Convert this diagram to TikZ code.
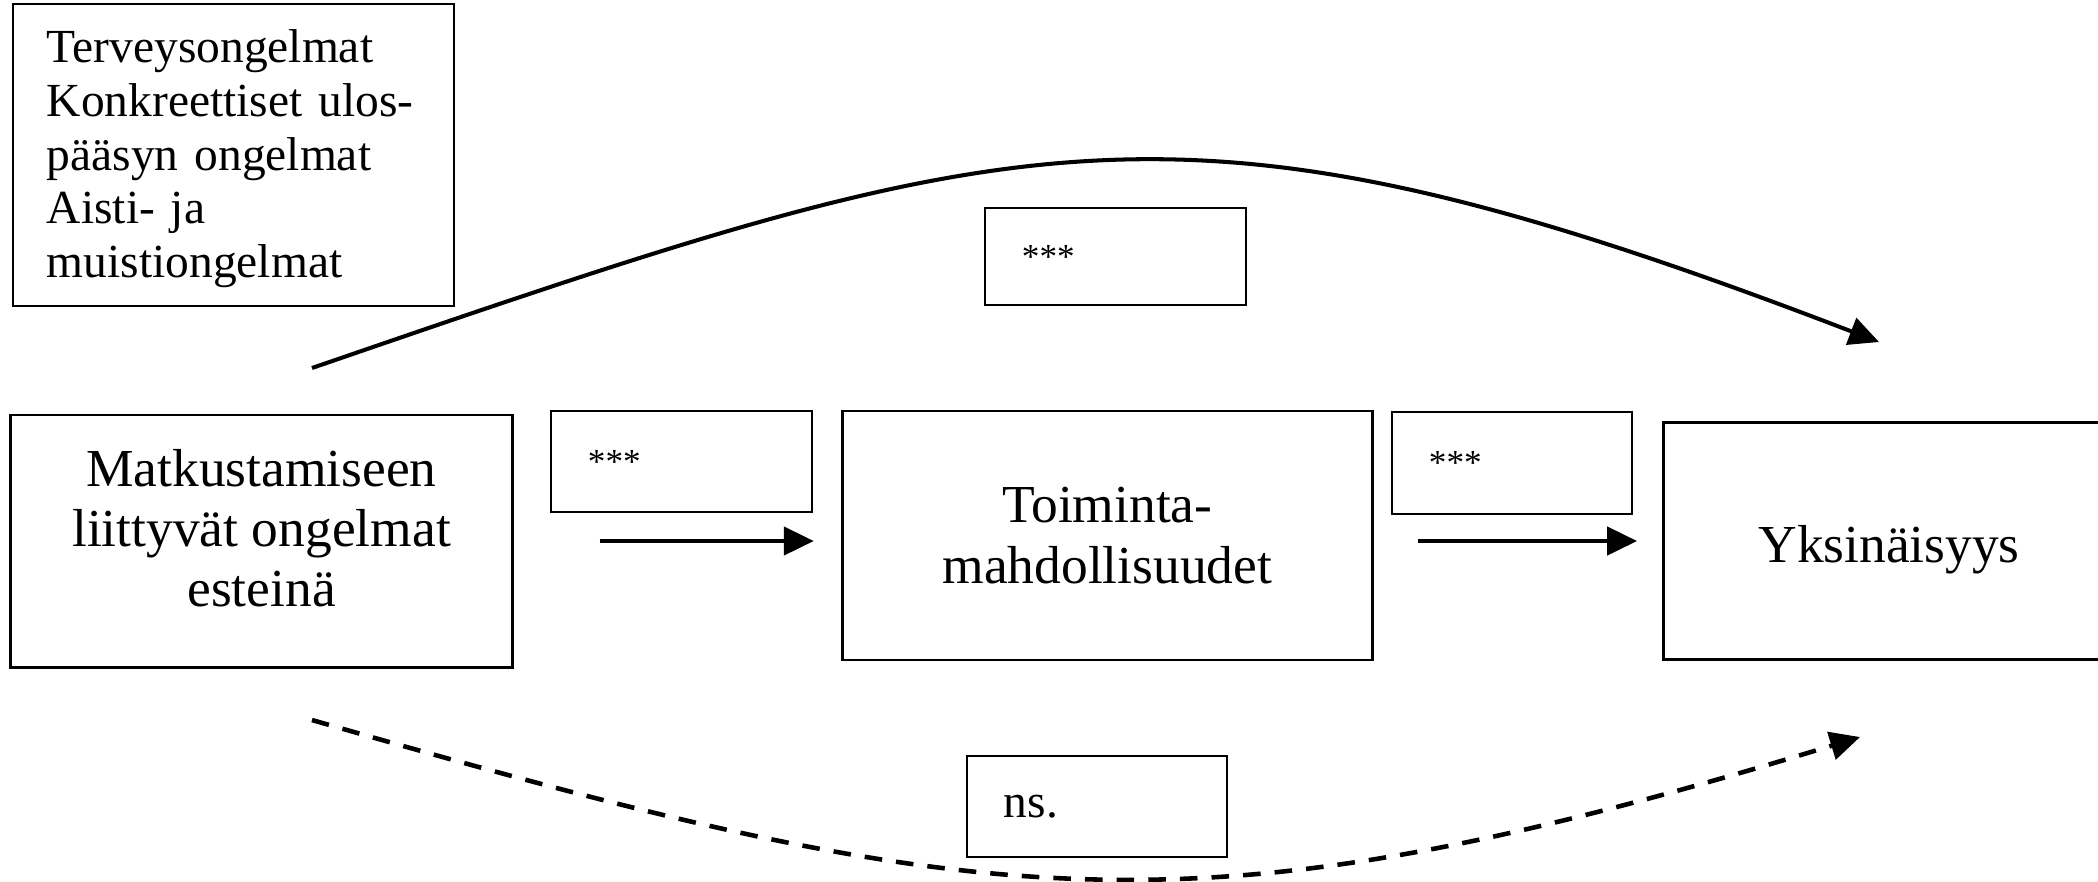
\documentclass[tikz,border=0pt]{standalone}
\usepackage{fontspec}
\setmainfont{Liberation Serif}
\usetikzlibrary{arrows.meta, positioning}

\begin{document}
\begin{tikzpicture}[x=0.01cm, y=-0.01cm, >=Triangle]
  % Define styles
  \tikzstyle{bigbox} = [rectangle, draw=black, line width=0.8pt, align=center, inner sep=0pt, font=\fontsize{15.2}{17.1}\selectfont]
  \tikzstyle{factorbox} = [rectangle, draw=black, line width=0.6pt, minimum height=3.02cm, inner xsep=0.34cm, text width=3.73cm, align=left, font=\fontsize{13.5}{15.3}\selectfont]
  \tikzstyle{starbox} = [rectangle, draw=black, line width=0.55pt, minimum height=1.01cm, inner xsep=0.37cm, inner ysep=0pt, text width=1.87cm, align=left, font=\fontsize{10}{12}\selectfont]
  \tikzstyle{arrow} = [line width=1.15pt, -{Triangle[length=8.5pt, width=8pt]}]
  \tikzstyle{dasharrow} = [arrow, line width=1.3pt, dash pattern=on 5pt off 4pt]

  \useasboundingbox (0,0) rectangle (2098,881);

  % Place nodes
  \node [bigbox, minimum width=5.01cm, minimum height=2.52cm, text depth=0.26cm] (matk) at (261.5,541) {Matkustamiseen\\liittyvät ongelmat\\esteinä};
  \node [bigbox, minimum width=5.30cm, minimum height=2.49cm, right=3.27cm of matk, yshift=0.055cm] (toim) {Toiminta-\\mahdollisuudet};
  \node [bigbox, minimum width=4.51cm, minimum height=2.37cm, text height=0.54cm, text depth=0.12cm, right=2.88cm of toim, yshift=-0.055cm] (yks) {Yksinäisyys};
  \node [factorbox, text height=0.405cm] (health) at (233.5,155) {Terveysongelmat\\Konkreettiset ulos-\\pääsyn ongelmat\\Aisti- ja\\muistiongelmat};
  \node [starbox] (star1) at (681.5,461.5) {***};
  \node [starbox, text width=1.66cm, minimum height=1.02cm] (star2) at (1512,463) {***};
  \node [starbox, minimum height=0.97cm] (startop) at (1115.5,256.5) {***};
  \node [starbox, text width=1.86cm, font=\fontsize{13.5}{15.3}\selectfont] (nsbox) at (1097,806.5) {ns.};
  \coordinate (topstart) at (312,368);
  \coordinate (topend) at (1879,342);
  \coordinate (botstart) at (312,720);
  \coordinate (botend) at (1860,737);

  % Draw edges
  \draw [arrow] ([xshift=0.86cm]matk.east) -- ([xshift=-0.27cm]matk.east -| toim.west);
  \draw [arrow] ([xshift=0.44cm]toim.east |- yks.west) -- ([xshift=-0.25cm]yks.west);
  \draw [arrow] (topstart) .. controls (1024,123) and (1176,72) .. (topend);
  \draw [dasharrow] (botstart) .. controls (987,914) and (1189,942) .. (botend);
\end{tikzpicture}
\end{document}
